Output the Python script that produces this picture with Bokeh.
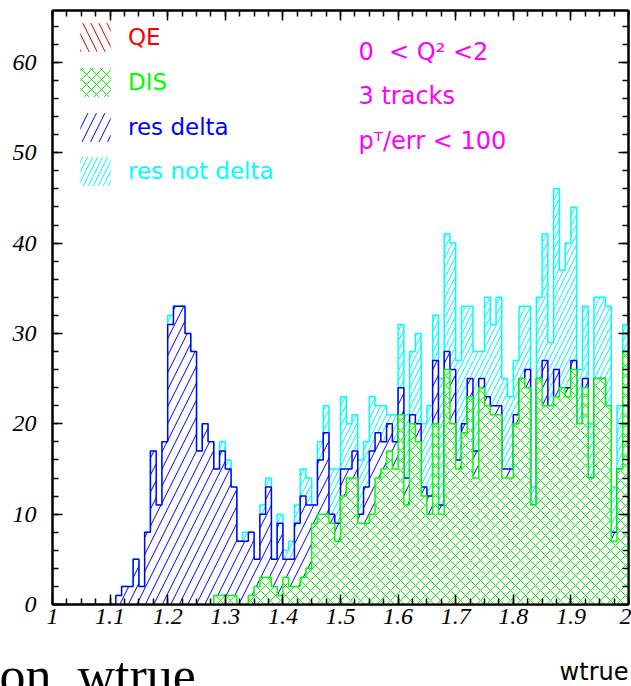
import numpy as np
from bokeh.plotting import figure
from bokeh.models import (Range1d, SingleIntervalTicker, LinearAxis, CustomJSTickFormatter,
                          Label, Legend, LegendItem, Title)
from bokeh.embed import file_html
from bokeh.resources import INLINE

# histogram: 100 bins of width 0.01 on wtrue from 1.00 to 2.00
x_lo, x_hi, n_bins = 1.0, 2.0, 100

qe = [0, 0, 0, 0, 0, 0, 0, 0, 0, 0, 0, 0, 0, 0, 0, 0, 0, 0, 0, 0,
      0, 0, 0, 0, 0, 0, 0, 0, 0, 0, 0, 0, 0, 0, 0, 0, 0, 0, 0, 0,
      0, 0, 0, 0, 0, 0, 0, 0, 0, 0, 0, 0, 0, 0, 0, 0, 0, 0, 0, 0,
      0, 0, 0, 0, 0, 0, 0, 0, 0, 0, 0, 0, 0, 0, 0, 0, 0, 0, 0, 0,
      0, 0, 0, 0, 0, 0, 0, 0, 0, 0, 0, 0, 0, 0, 0, 0, 0, 0, 0, 0]

dis = [0, 0, 0, 0, 0, 0, 0, 0, 0, 0, 0, 0, 0, 0, 0, 0, 0, 0, 0, 0,
       0, 0, 0, 0, 0, 0, 0, 0, 1, 1, 1, 1, 0, 0, 1, 2, 3, 3, 2, 1,
       3, 2, 2, 3, 4, 9, 10, 10, 9, 7, 12, 14, 14, 9, 9, 10, 14, 15, 17, 15,
       21, 11, 20, 18, 12, 10, 20, 10, 26, 20, 15, 19, 23, 14, 24, 22, 21, 21, 14, 14,
       20, 25, 24, 11, 25, 22, 22, 23, 24, 23, 26, 20, 24, 14, 25, 25, 22, 7, 15, 28]

res_delta = [0, 0, 0, 0, 0, 0, 0, 0, 0, 0, 0, 1, 2, 2, 5, 2, 8, 17, 11, 18,
             31, 33, 33, 30, 28, 17, 20, 18, 14, 16, 14, 12, 7, 7, 7, 3, 7, 10, 3, 8,
             2, 3, 7, 9, 7, 2, 6, 9, 1, 2, 3, 1, 3, 1, 4, 7, 5, 3, 3, 3,
             3, 3, 1, 2, 1, 2, 7, 1, 2, 6, 1, 1, 2, 3, 1, 1, 1, 1, 1, 1,
             1, 0, 2, 0, 0, 5, 0, 3, 0, 1, 1, 0, 1, 0, 0, 0, 0, 1, 0, 0]

res_not_delta = [0, 0, 0, 0, 0, 0, 0, 0, 0, 0, 0, 0, 0, 0, 0, 0, 0, 0, 0, 0,
                 1, 0, 0, 0, 0, 0, 0, 0, 0, 1, 1, 0, 0, 1, 0, 0, 1, 1, 0, 1,
                 1, 2, 2, 3, 3, 0, 2, 3, 5, 6, 8, 5, 4, 6, 5, 6, 3, 4, 1, 3,
                 7, 7, 7, 10, 7, 10, 5, 14, 13, 14, 11, 13, 8, 11, 3, 11, 9, 12, 10, 8,
                 6, 8, 7, 2, 9, 14, 7, 20, 13, 16, 17, 6, 8, 6, 9, 9, 11, 5, 7, 3]

legend_labels = ["QE", "DIS", "res delta", "res not delta"]
cut_lines = ["0\u00a0\u00a0< Q\u00b2 <2", "3 tracks", "p\u1d40/err < 100"]
x_title = "wtrue"
page_title = "on\u00a0\u00a0wtrue"

RED, GREEN, BLUE, CYAN, MAGENTA = "#ff0000", "#00ff00", "#0000ff", "#00ffff", "#ff00ff"
HATCH = {"QE": (RED, "\\", 16), "DIS": (GREEN, "x", 10),
         "res delta": (BLUE, "/", 17), "res not delta": (CYAN, "/", 10)}

edges = np.linspace(x_lo, x_hi, n_bins + 1)
lvl_qe = np.array(qe, float)
lvl_dis = lvl_qe + np.array(dis, float)
lvl_delta = lvl_dis + np.array(res_delta, float)
lvl_all = lvl_delta + np.array(res_not_delta, float)


def outline(levels):
    xs = np.repeat(edges, 2)
    ys = np.concatenate([[0.0], np.repeat(levels, 2), [0.0]])
    return xs, ys


p = figure(width=631, height=686, x_range=Range1d(x_lo, x_hi), y_range=Range1d(0, 65.74),
           output_backend="svg", toolbar_location=None,
           min_border_left=52, min_border_right=3, min_border_top=10, min_border_bottom=82)
p.xgrid.visible = False
p.ygrid.visible = False
p.outline_line_color = "black"
p.outline_line_width = 2
p.background_fill_color = "white"
p.border_fill_color = "white"

# cumulative (stacked) histograms, drawn from the tallest down
for lv, key in [(lvl_all, "res not delta"), (lvl_delta, "res delta"),
                (lvl_dis, "DIS"), (lvl_qe, "QE")]:
    col, pat, sc = HATCH[key]
    xs, ys = outline(lv)
    p.patch(xs, ys, fill_color="white", hatch_pattern=pat, hatch_color=col, hatch_scale=sc,
            hatch_weight=1, line_color=col, line_width=1.5)

# legend swatches: zero-area proxies used only by the legends
leg_rs = []
for key in legend_labels:
    col, pat, sc = HATCH[key]
    r = p.patch([x_lo, x_lo, x_lo], [0, 0, 0], fill_color="white", fill_alpha=1,
                hatch_pattern=pat, hatch_color=col, hatch_scale=sc, hatch_weight=1,
                line_color=None)
    leg_rs.append(r)

leg_y = [549, 504, 459, 415]
for r, lab, ly in zip(leg_rs, legend_labels, leg_y):
    lg = Legend(items=[LegendItem(label=lab, renderers=[r])], location=(24, ly),
                glyph_width=38, glyph_height=36, label_standoff=14, padding=0, margin=0,
                spacing=0, border_line_color=None, background_fill_alpha=0,
                label_text_color=HATCH[lab][0], label_text_font="DejaVu Sans",
                label_text_font_size="23px", label_height=36)
    p.add_layout(lg)

# axes
tick_font = dict(major_label_text_font="Liberation Serif", major_label_text_font_style="italic",
                 major_label_text_font_size="24px", major_label_text_color="black")
xax = p.xaxis[0]
xax.ticker = SingleIntervalTicker(interval=0.1, num_minor_ticks=4)
xax.formatter = CustomJSTickFormatter(code="return (Math.round(tick*10)/10).toString();")
yax = p.yaxis[0]
yax.ticker = SingleIntervalTicker(interval=10, num_minor_ticks=5)
for ax in (xax, yax):
    ax.major_tick_in = 10
    ax.major_tick_out = 0
    ax.minor_tick_in = 6
    ax.minor_tick_out = 0
    ax.axis_line_width = 2
    ax.major_tick_line_width = 1.5
    ax.minor_tick_line_width = 1.5
    for k, v in tick_font.items():
        setattr(ax, k, v)
xax.major_label_standoff = 4
yax.major_label_standoff = 16
# invisible spacer label so that the titles below sit at the bottom of the canvas
xax.axis_label = " "
xax.axis_label_text_font_size = "1px"
xax.axis_label_standoff = 39

top = LinearAxis(ticker=SingleIntervalTicker(interval=0.1, num_minor_ticks=4),
                 major_label_text_font_size="0px", major_label_standoff=0,
                 major_tick_in=10, major_tick_out=0, minor_tick_in=6, minor_tick_out=0,
                 axis_line_width=2, major_tick_line_width=1.5, minor_tick_line_width=1.5)
right = LinearAxis(ticker=SingleIntervalTicker(interval=10, num_minor_ticks=5),
                   major_label_text_font_size="0px", major_label_standoff=0,
                   major_tick_in=10, major_tick_out=0, minor_tick_in=6, minor_tick_out=0,
                   axis_line_width=2, major_tick_line_width=1.5, minor_tick_line_width=1.5)
p.add_layout(top, "above")
p.add_layout(right, "right")

# cut annotations
for txt, yy in zip(cut_lines, [553, 509, 464]):
    p.add_layout(Label(x=306, y=yy, x_units="screen", y_units="screen", text=txt,
                       text_color=MAGENTA, text_font="DejaVu Sans", text_font_size="24px",
                       text_baseline="alphabetic"))

t1 = Title(text=x_title, align="right", vertical_align="top", offset=0, standoff=-24,
           text_font="DejaVu Sans", text_font_size="24px", text_font_style="normal",
           text_color="black")
t2 = Title(text=page_title, align="left", vertical_align="top", offset=-53, standoff=-57,
           text_font="Liberation Serif", text_font_size="52px", text_font_style="normal",
           text_color="black")
p.add_layout(t1, "below")
p.add_layout(t2, "below")

open("out.html", "w").write(file_html(p, INLINE))
